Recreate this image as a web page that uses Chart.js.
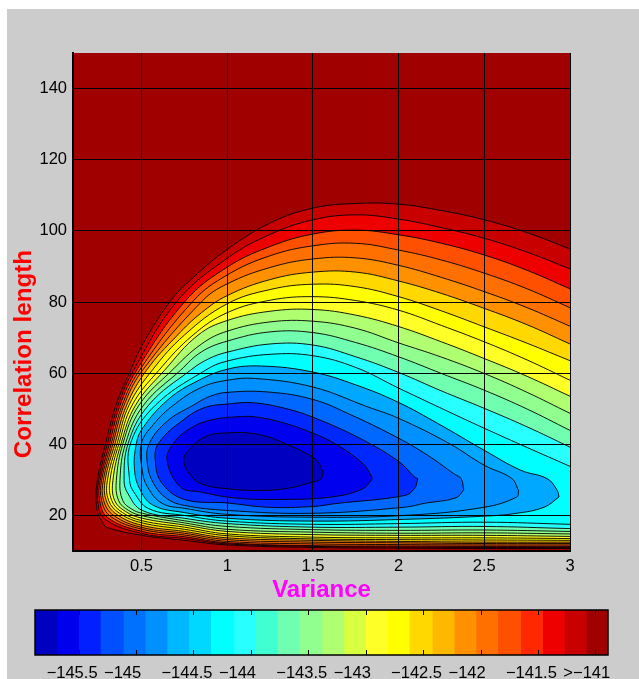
<!DOCTYPE html>
<html>
<head>
<meta charset="utf-8">
<title>Variance / Correlation length</title>
<script src="https://cdn.jsdelivr.net/npm/chart.js@4"></script>
<style>
  html, body { margin: 0; padding: 0; background: #fff; overflow: hidden; }
  #panel { position: absolute; left: 7px; top: 9px; width: 632px; height: 670px; background: #ccc; }
  #mainChart { position: absolute; left: 0; top: 0; }
  #barChart { position: absolute; left: 0; top: 600px; }
</style>
</head>
<body>
<div id="panel"></div>
<canvas id="mainChart" width="639" height="607"></canvas>
<canvas id="barChart" width="639" height="79"></canvas>
<script>
// ticks
const xTicks = [0.5, 1, 1.5, 2, 2.5, 3];
const yTicks = [20, 40, 60, 80, 100, 120, 140];
const barTicks = [-145.5, -145, -144.5, -144, -143.5, -143, -142.5, -142, -141.5, -141];

// contour lines, [variance, correlation length], inner to outer
// the closed ones start and end on their right hand nose
const contour0 = [[1.56,32.2],[1.547,30.3],[1.5,29.4],[1.337,27.5],[1.163,27],[1,27.5],[0.872,28.5],[0.802,30.4],[0.746,35.5],[0.802,39.7],[0.89,42.5],[1,43.2],[1.122,43.2],[1.238,42.1],[1.337,40.2],[1.436,38],[1.522,35.5],[1.56,32.2]];
const contour1 = [[1.845,30.8],[1.841,29.9],[1.783,27.3],[1.609,25.2],[1.337,24.5],[1.047,24.9],[0.843,26.6],[0.727,28],[0.649,35.5],[0.686,40.3],[0.785,44.5],[0.901,46.8],[1.047,47.7],[1.163,47.7],[1.337,45.9],[1.5,43.1],[1.628,40.2],[1.791,34.6],[1.845,30.8]];
const contour2 = [[2.112,30.3],[2.093,27.6],[2.035,25.6],[1.628,23.3],[1.5,22.5],[1.238,22.3],[1,23.5],[0.75,24.5],[0.62,29],[0.581,34.9],[0.599,40.3],[0.756,47.3],[0.872,50.4],[1,51.3],[1.145,51.7],[1.337,50.1],[1.5,47.6],[1.773,41.7],[2,35.2],[2.093,30.8],[2.112,30.3]];
const contour3 = [[2.38,27.2],[2.336,25],[2.151,23.4],[2.035,22.3],[1.5,20.6],[1,21.4],[0.75,22.8],[0.649,24.7],[0.57,29],[0.533,34.9],[0.546,40.3],[0.65,46.5],[0.802,51],[0.9,53.5],[1,54.6],[1.238,54.7],[1.5,52.6],[1.725,48.2],[2,41.7],[2.17,36.9],[2.326,31.6],[2.365,30.3],[2.38,27.2]];
const contour4 = [[2.7,27],[2.69,25.2],[2.5,22.3],[2.035,20],[1.5,19.5],[1,20.3],[0.75,22],[0.62,23.4],[0.535,28],[0.504,32.7],[0.5,40.3],[0.57,45.6],[0.686,51],[0.85,56],[1,58],[1.163,58.5],[1.5,56.1],[1.82,50.5],[2,47.3],[2.296,40.2],[2.5,34.1],[2.66,30.4],[2.7,27]];
const contour5 = [[2.936,25.2],[2.849,22.3],[2.674,20.5],[2.5,19.8],[2.035,18.9],[1.5,18.4],[1,19.2],[0.75,20.8],[0.57,22.8],[0.494,27],[0.459,32.7],[0.47,40.3],[0.51,44.8],[0.651,52.4],[0.802,57.2],[1,61.1],[1.2,62],[1.5,60.3],[1.75,56.7],[1.994,51.9],[2.227,45.9],[2.5,38.3],[2.713,32.7],[2.868,30.3],[2.926,27],[2.936,25.2]];
const contour6 = [[3,33.8],[2.75,39.1],[2.5,44.5],[2.25,50.1],[2,55.8],[1.75,61.6],[1.5,64.9],[1.25,65.3],[1,63.4],[0.872,60.8],[0.581,51],[0.436,40.3],[0.43,29.9],[0.455,26.6],[0.542,21.9],[0.75,20],[1,18.4],[1.5,17.5],[2,17.7],[2.5,18.1],[3,17.5]];
const contour7 = [[3,39.2],[2.75,44.9],[2.5,50.1],[2.25,55],[2,60.2],[1.75,64.6],[1.5,67.9],[1.25,68.2],[1,65.9],[0.89,64],[0.785,60.8],[0.541,51],[0.422,40.3],[0.398,29.9],[0.42,26.2],[0.504,21.4],[0.75,19.2],[1,17.7],[1.5,16.7],[2,16.7],[2.5,16.9],[3,16.3]];
const contour8 = [[3,43.9],[2.75,49.9],[2.5,55.2],[2.25,59.9],[2,64.6],[1.75,68.6],[1.5,71.4],[1.25,71.6],[1,69],[0.85,66],[0.727,60.8],[0.512,51],[0.407,40.3],[0.374,29.9],[0.39,24.2],[0.442,21.8],[0.504,20.6],[0.75,18.5],[1,16.9],[1.5,16],[2,15.8],[2.5,15.9],[3,15.5]];
const contour9 = [[3,48.7],[2.75,54.6],[2.5,59.9],[2.25,64.5],[2,68.5],[1.75,72.6],[1.5,74.6],[1.25,74.4],[1,71.8],[0.85,68.2],[0.678,60.8],[0.485,51],[0.392,40.3],[0.353,29.9],[0.366,24.2],[0.424,21.4],[0.504,19.9],[0.75,17.9],[1,16.1],[1.5,15.3],[2,15],[2.5,15.1],[3,14.8]];
const contour10 = [[3,53.5],[2.75,59.1],[2.5,64.1],[2.25,68.8],[2,73.1],[1.75,76.3],[1.5,77.9],[1.25,77.4],[1,74.8],[0.83,70.7],[0.634,60.8],[0.465,51],[0.381,40.3],[0.333,29.9],[0.343,24.2],[0.407,21.1],[0.504,19.2],[0.75,17.3],[1,15.5],[1.5,14.6],[2,14.4],[2.5,14.4],[3,14.1]];
const contour11 = [[3,58],[2.75,63.7],[2.5,68.8],[2.25,73.4],[2,77.7],[1.75,80.4],[1.5,81.5],[1.25,80.5],[1,77],[0.8,70.7],[0.601,60.8],[0.445,51],[0.369,40.3],[0.316,29.9],[0.326,24.2],[0.389,20.8],[0.504,18.5],[0.75,16.7],[1,14.8],[1.5,13.9],[2,13.7],[2.5,13.7],[3,13.5]];
const contour12 = [[3,63.5],[2.75,68.4],[2.5,73],[2.25,77.5],[2,81.5],[1.75,84.3],[1.5,85],[1.25,83.5],[1,79.5],[0.75,70.7],[0.562,60.8],[0.427,51],[0.358,40.3],[0.301,29.9],[0.308,24.2],[0.372,20.6],[0.504,17.9],[0.75,16.1],[1,14.3],[1.5,13.4],[2,13.2],[2.5,13.1],[3,13]];
const contour13 = [[3,68.2],[2.75,73.6],[2.5,78.2],[2.25,82.4],[2,85.9],[1.75,88.4],[1.5,88.4],[1.25,86.3],[1,81.8],[0.85,77],[0.71,70.7],[0.529,60.8],[0.413,51],[0.346,40.3],[0.288,29.9],[0.294,24.2],[0.355,20.3],[0.504,17.2],[0.75,15.5],[1,13.7],[1.5,13],[2,12.7],[2.5,12.5],[3,12.5]];
const contour14 = [[3,73.2],[2.75,78.4],[2.5,82.9],[2.25,86.9],[2,90.3],[1.75,92.4],[1.5,92.1],[1.25,89.7],[1,85.1],[0.855,80.3],[0.506,60.8],[0.398,51],[0.334,40.3],[0.277,29.9],[0.279,24.2],[0.337,20],[0.504,16.6],[0.75,15],[1,13.2],[1.5,12.5],[2,12.3],[2.5,12.1],[3,12.1]];
const contour15 = [[3,78.4],[2.75,83.7],[2.5,88.1],[2.25,91.8],[2,94.6],[1.75,96.5],[1.5,95.8],[1.25,93],[1,87.6],[0.802,80.3],[0.488,60.8],[0.387,51],[0.324,40.3],[0.267,29.9],[0.267,24.2],[0.32,19.7],[0.504,16.1],[0.75,14.5],[1,12.7],[1.5,12],[2,11.8],[2.5,11.7],[3,11.7]];
const contour16 = [[3,83.7],[2.75,88.9],[2.5,93.2],[2.25,96.5],[2,98.9],[1.75,100.2],[1.5,99.1],[1.25,95.6],[1,89.8],[0.756,80.3],[0.471,60.8],[0.375,51],[0.314,40.3],[0.259,29.9],[0.256,24.2],[0.302,19.4],[0.504,15.5],[0.75,14],[1,12.3],[1.5,11.5],[2,11.4],[2.5,11.3],[3,11.3]];
const contour17 = [[3,89.3],[2.75,94],[2.5,97.9],[2.25,100.9],[2,103.3],[1.75,104.5],[1.5,103.1],[1.25,99],[1,92.3],[0.709,80.3],[0.453,60.8],[0.363,51],[0.302,40.3],[0.25,29.9],[0.244,24.2],[0.285,19],[0.504,14.9],[0.75,13.5],[1,12],[1.5,11.3],[2,11.1],[2.5,11],[3,11]];
const contour18 = [[3,94.9],[2.75,99.5],[2.5,103.1],[2.25,105.7],[2,107.5],[1.75,107.7],[1.5,106.4],[1.25,102.2],[1,94.8],[0.804,87],[0.669,80.3],[0.504,67.9],[0.436,60.8],[0.351,51],[0.291,40.3],[0.242,29.9],[0.235,24.2],[0.247,20.3],[0.266,18.6],[0.297,16.7],[0.504,14.4],[0.75,13],[1,11.7],[1.5,11],[2,10.8],[2.5,10.7],[3,10.7]];
const contours = [contour0, contour1, contour2, contour3, contour4, contour5, contour6, contour7, contour8, contour9, contour10, contour11, contour12, contour13, contour14, contour15, contour16, contour17, contour18];

// fill inside each contour, same order
const contourColors = ['#0000c0', '#0000ef', '#0028ff', '#0068ff', '#0090ff', '#00a8ff', '#00ffff', '#28ffff', '#70ffb0', '#90ff90', '#b0ff70', '#ffff28', '#ffff00', '#ffd800', '#ff9000', '#ff7000', '#ff5000', '#ef0000', '#c80000'];
const outsideColor = '#a00000';

// colour bar cells
const barEdges = [-145.88, -145.69, -145.5, -145.31, -145.11, -144.92, -144.73, -144.54, -144.35, -144.15, -143.96, -143.77, -143.58, -143.38, -143.19, -143, -142.81, -142.62, -142.42, -142.23, -142.04, -141.85, -141.65, -141.46, -141.27, -141.08, -140.89];
const barColors = ['#0000c0', '#0000ef', '#0020ff', '#0050ff', '#0070ff', '#0090ff', '#00b8ff', '#00d8ff', '#00ffff', '#28ffff', '#40ffd0', '#70ffb0', '#90ff90', '#b0ff70', '#d8ff40', '#ffff28', '#ffff00', '#ffd800', '#ffb800', '#ff9000', '#ff7000', '#ff5000', '#ff2800', '#ef0000', '#c80000', '#a00000'];

const tickFont = { family: "'Liberation Sans', Arial, sans-serif", size: 16.5 };

// dark red behind the contours and the off-centre y title
const plotDecor = {
    id: 'plotDecor',
    beforeDatasetsDraw(chart) {
        const a = chart.chartArea;
        const ctx = chart.ctx;
        ctx.save();
        ctx.fillStyle = outsideColor;
        ctx.fillRect(a.left, a.top, a.right - a.left, a.bottom - a.top);
        ctx.restore();
    },
    afterDraw(chart) {
        const ctx = chart.ctx;
        ctx.save();
        ctx.translate(24, 354);
        ctx.rotate(-Math.PI / 2);
        ctx.textAlign = 'center';
        ctx.textBaseline = 'middle';
        ctx.fillStyle = '#ff0000';
        ctx.font = "bold 24.2px 'Liberation Sans', Arial, sans-serif";
        ctx.fillText('Correlation length', 0, 0);
        ctx.restore();
    }
};

new Chart(document.getElementById('mainChart'), {
    type: 'scatter',
    data: {
        datasets: contours.map((c, i) => ({
            data: c.map(p => ({ x: p[0], y: p[1] })),
            showLine: true,
            fill: 'shape',
            tension: 0.4,
            borderColor: '#000',
            borderWidth: 0.9,
            backgroundColor: contourColors[i],
            pointRadius: 0
        }))
    },
    options: {
        responsive: false,
        animation: false,
        layout: { autoPadding: false, padding: { top: 53, right: 69, left: 0, bottom: 0 } },
        plugins: { legend: { display: false }, tooltip: { enabled: false } },
        scales: {
            x: {
                type: 'linear',
                min: 0.1,
                max: 3,
                afterBuildTicks(s) { s.ticks = xTicks.map(v => ({ value: v })); },
                afterFit(s) { s.height = 56; },
                grid: { color: '#000', lineWidth: 1, z: 1, drawTicks: false },
                border: { color: '#000', width: 2, z: 2 },
                ticks: { color: '#000', font: tickFont, padding: 6, maxRotation: 0, autoSkip: false, callback: v => String(v) },
                title: {
                    display: true,
                    text: 'Variance',
                    color: '#ff00ff',
                    font: { family: "'Liberation Sans', Arial, sans-serif", size: 24, weight: 'bold' },
                    padding: { top: 0, bottom: 2 }
                }
            },
            y: {
                type: 'linear',
                min: 10,
                max: 150,
                afterBuildTicks(s) { s.ticks = yTicks.map(v => ({ value: v })); },
                afterFit(s) { s.width = 73; },
                grid: { color: '#000', lineWidth: 1, z: 1, drawTicks: false },
                border: { color: '#000', width: 2, z: 2 },
                ticks: { color: '#000', font: tickFont, padding: 6, autoSkip: false }
            }
        }
    },
    plugins: [plotDecor]
});

// frame and inward ticks of the colour bar
const barDecor = {
    id: 'barDecor',
    afterDraw(chart) {
        const a = chart.chartArea;
        const ctx = chart.ctx;
        const sx = chart.scales.x;
        ctx.save();
        ctx.strokeStyle = '#000';
        ctx.lineWidth = 1;
        barTicks.forEach(v => {
            const px = Math.round(sx.getPixelForValue(v)) + 0.5;
            ctx.beginPath();
            ctx.moveTo(px, a.top);
            ctx.lineTo(px, a.top + 5);
            ctx.moveTo(px, a.bottom);
            ctx.lineTo(px, a.bottom - 5);
            ctx.stroke();
        });
        ctx.lineWidth = 1.5;
        ctx.strokeRect(a.left, a.top, a.right - a.left, a.bottom - a.top);
        ctx.restore();
    }
};

new Chart(document.getElementById('barChart'), {
    type: 'bar',
    data: {
        labels: [''],
        datasets: barColors.map((c, i) => ({
            data: [[barEdges[i], barEdges[i + 1]]],
            backgroundColor: c,
            borderWidth: 0,
            barPercentage: 1,
            categoryPercentage: 1,
            grouped: false
        }))
    },
    options: {
        indexAxis: 'y',
        responsive: false,
        animation: false,
        layout: { autoPadding: false, padding: { top: 10, right: 31, left: 35, bottom: 0 } },
        plugins: { legend: { display: false }, tooltip: { enabled: false } },
        scales: {
            x: {
                type: 'linear',
                min: -145.88,
                max: -140.89,
                afterBuildTicks(s) { s.ticks = barTicks.map(v => ({ value: v })); },
                afterFit(s) { s.height = 24; s.paddingLeft = 0; s.paddingRight = 0; },
                grid: { display: false, drawTicks: false },
                border: { display: false },
                ticks: {
                    color: '#000',
                    font: tickFont,
                    padding: 9,
                    align: 'start',
                    labelOffset: -32,
                    maxRotation: 0,
                    autoSkip: false,
                    callback: v => (v === -141 ? '>\u2212141' : '\u2212' + Math.abs(v))
                }
            },
            y: { display: false }
        }
    },
    plugins: [barDecor]
});
</script>
</body>
</html>
